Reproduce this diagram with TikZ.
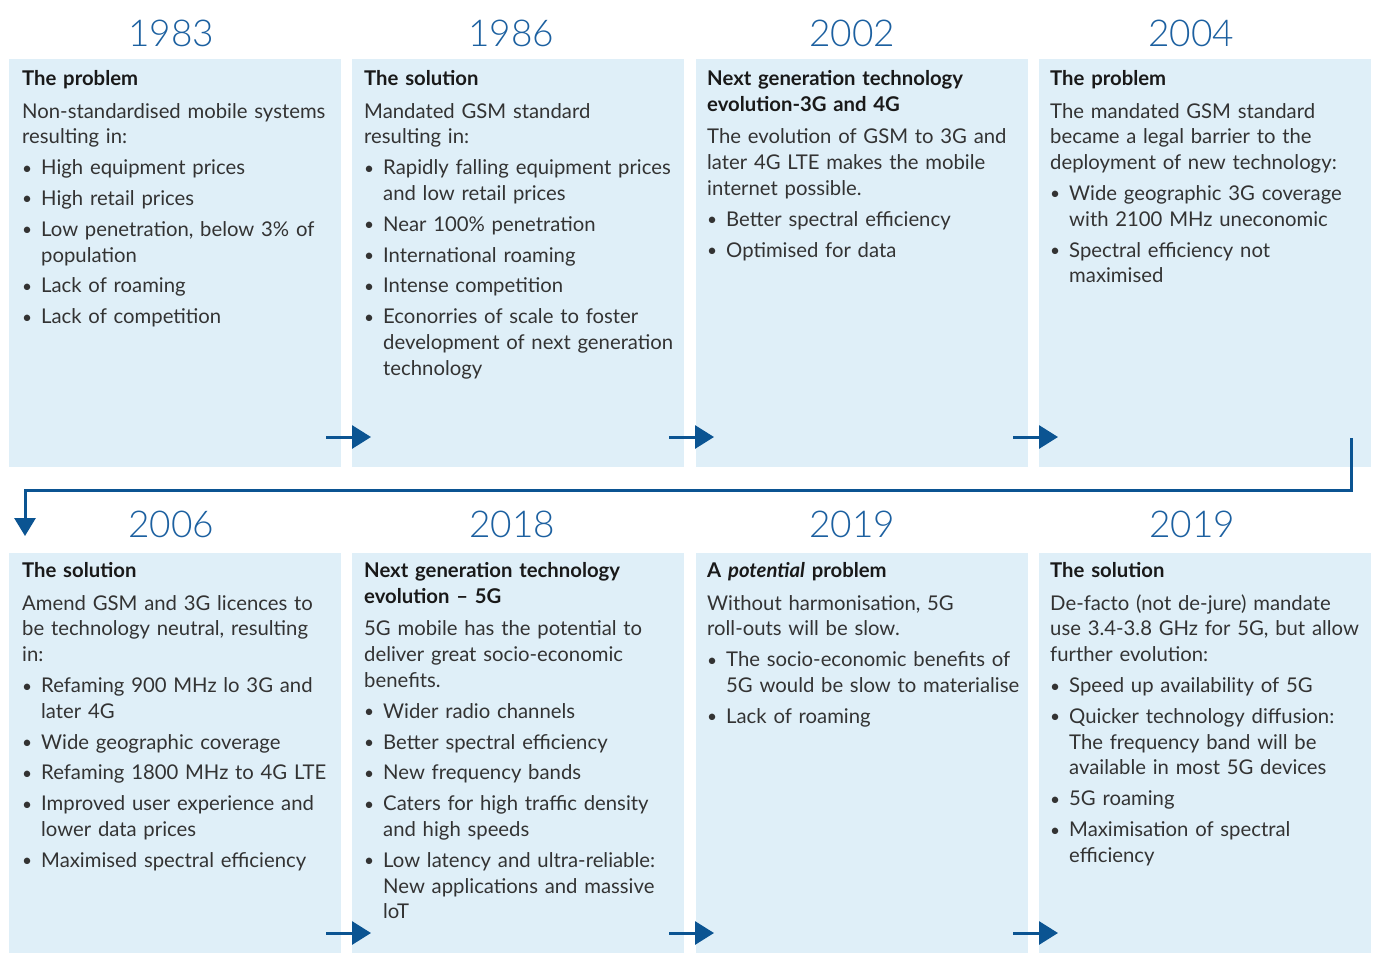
\documentclass[tikz,border=0pt]{standalone}
\usepackage{fontspec}
\setmainfont{Lato}
\newfontfamily\yearfont{Lato}[UprightFont=* Light]
\usetikzlibrary{arrows.meta}
\definecolor{panelbg}{HTML}{DFEFF8}
\definecolor{yearblue}{HTML}{1C60A0}
\definecolor{arrowblue}{HTML}{0B5492}
\definecolor{txt}{HTML}{333333}
\newcommand\bitem[1]{\vspace{5pt}\hangindent=19pt\hangafter=1\noindent\makebox[19pt][l]{\raisebox{0.5pt}{\scalebox{0.85}{•}}}#1\par}
\newcommand\heading[1]{\noindent\textbf{\color{black!90}#1}\par\vspace{7pt}}
\newcommand\lead[1]{\noindent #1\par}
\tikzset{
  panel/.style={fill=panelbg, draw=none, anchor=north west, inner sep=0pt, minimum width=332pt},
  toppanel/.style={panel, minimum height=408pt},
  botpanel/.style={panel, minimum height=400pt},
  ptext/.style={anchor=north west, inner sep=0pt, text width=330pt, align=left, font=\fontsize{20.3}{25.8}\selectfont, text=txt},
  year/.style={font=\yearfont\fontsize{37}{37}\selectfont, text=yearblue, inner sep=0pt},
  flow/.style={draw=arrowblue, line width=3pt, -{Triangle[length=19pt,width=23pt]}},
  turn/.style={draw=arrowblue, line width=3pt, -{Triangle[length=18pt,width=21pt]}},
}
\begin{document}
\begin{tikzpicture}[x=1pt,y=-1pt]
\useasboundingbox[fill=white] (0,0) rectangle (1376,954);
% panels
\node[toppanel] (p1) at (9,59) {};
\node[toppanel] (p2) at (352,59) {};
\node[toppanel] (p3) at (696,59) {};
\node[toppanel] (p4) at (1039,59) {};
\node[botpanel] (p5) at (9,553) {};
\node[botpanel] (p6) at (352,553) {};
\node[botpanel] (p7) at (696,553) {};
\node[botpanel] (p8) at (1039,553) {};
% years
\node[year] (y1) at (171,33) {1983};
\node[year] (y2) at (511,33) {1986};
\node[year] (y3) at (852,33) {2002};
\node[year] (y4) at (1191,33) {2004};
\node[year] (y5) at (171,524) {2006};
\node[year] (y6) at (512,524) {2018};
\node[year] (y7) at (852,524) {2019};
\node[year] (y8) at (1192,524) {2019};
% texts
\node[ptext] (t1) at (22,70) {\heading{The problem}\lead{Non-standardised mobile systems\newline resulting in:}
\bitem{High equipment prices}
\bitem{High retail prices}
\bitem{Low penetration, below 3\% of\newline population}
\bitem{Lack of roaming}
\bitem{Lack of competition}};
\node[ptext] (t2) at (364,70) {\heading{The solution}\lead{Mandated GSM standard\newline resulting in:}
\bitem{Rapidly falling equipment prices\newline and low retail prices}
\bitem{Near 100\% penetration}
\bitem{International roaming}
\bitem{Intense competition}
\bitem{Econorries of scale to foster\newline development of next generation\newline technology}};
\node[ptext] (t3) at (707,70) {\heading{Next generation technology\newline evolution-3G and 4G}\lead{The evolution of GSM to 3G and\newline later 4G LTE makes the mobile\newline internet possible.}
\bitem{Better spectral efficiency}
\bitem{Optimised for data}};
\node[ptext] (t4) at (1050,70) {\heading{The problem}\lead{The mandated GSM standard\newline became a legal barrier to the\newline deployment of new technology:}
\bitem{Wide geographic 3G coverage\newline with 2100 MHz uneconomic}
\bitem{Spectral efficiency not\newline maximised}};
\node[ptext] (t5) at (22,562) {\heading{The solution}\lead{Amend GSM and 3G licences to\newline be technology neutral, resulting\newline in:}
\bitem{Refaming 900 MHz lo 3G and\newline later 4G}
\bitem{Wide geographic coverage}
\bitem{Refaming 1800 MHz to 4G LTE}
\bitem{Improved user experience and\newline lower data prices}
\bitem{Maximised spectral efficiency}};
\node[ptext] (t6) at (364,562) {\heading{Next generation technology\newline evolution – 5G}\lead{5G mobile has the potential to\newline deliver great socio-economic\newline benefits.}
\bitem{Wider radio channels}
\bitem{Better spectral efficiency}
\bitem{New frequency bands}
\bitem{Caters for high traffic density\newline and high speeds}
\bitem{Low latency and ultra-reliable:\newline New applications and massive\newline loT}};
\node[ptext] (t7) at (707,562) {\heading{A \textit{potential} problem}\lead{Without harmonisation, 5G\newline roll-outs will be slow.}
\bitem{The socio-economic benefits of\newline 5G would be slow to materialise}
\bitem{Lack of roaming}};
\node[ptext] (t8) at (1050,562) {\heading{The solution}\lead{De-facto (not de-jure) mandate\newline use 3.4-3.8 GHz for 5G, but allow\newline further evolution:}
\bitem{Speed up availability of 5G}
\bitem{Quicker technology diffusion:\newline The frequency band will be\newline available in most 5G devices}
\bitem{5G roaming}
\bitem{Maximisation of spectral\newline efficiency}};
% arrow coordinates
\coordinate (a1s) at (326,437); \coordinate (a1e) at (371,437);
\coordinate (a2s) at (669,437); \coordinate (a2e) at (714,437);
\coordinate (a3s) at (1013,437); \coordinate (a3e) at (1058,437);
\coordinate (a5s) at (326,933); \coordinate (a5e) at (371,933);
\coordinate (a6s) at (669,933); \coordinate (a6e) at (714,933);
\coordinate (a7s) at (1013,933); \coordinate (a7e) at (1058,933);
\coordinate (c0) at (1351,438);
\coordinate (c1) at (1351,490);
\coordinate (c2) at (25,490);
\coordinate (c3) at (25,536);
\draw[flow] (a1s) -- (a1e);
\draw[flow] (a2s) -- (a2e);
\draw[flow] (a3s) -- (a3e);
\draw[flow] (a5s) -- (a5e);
\draw[flow] (a6s) -- (a6e);
\draw[flow] (a7s) -- (a7e);
\draw[turn] (c0) -- (c1) -- (c2) -- (c3);
\end{tikzpicture}
\end{document}
